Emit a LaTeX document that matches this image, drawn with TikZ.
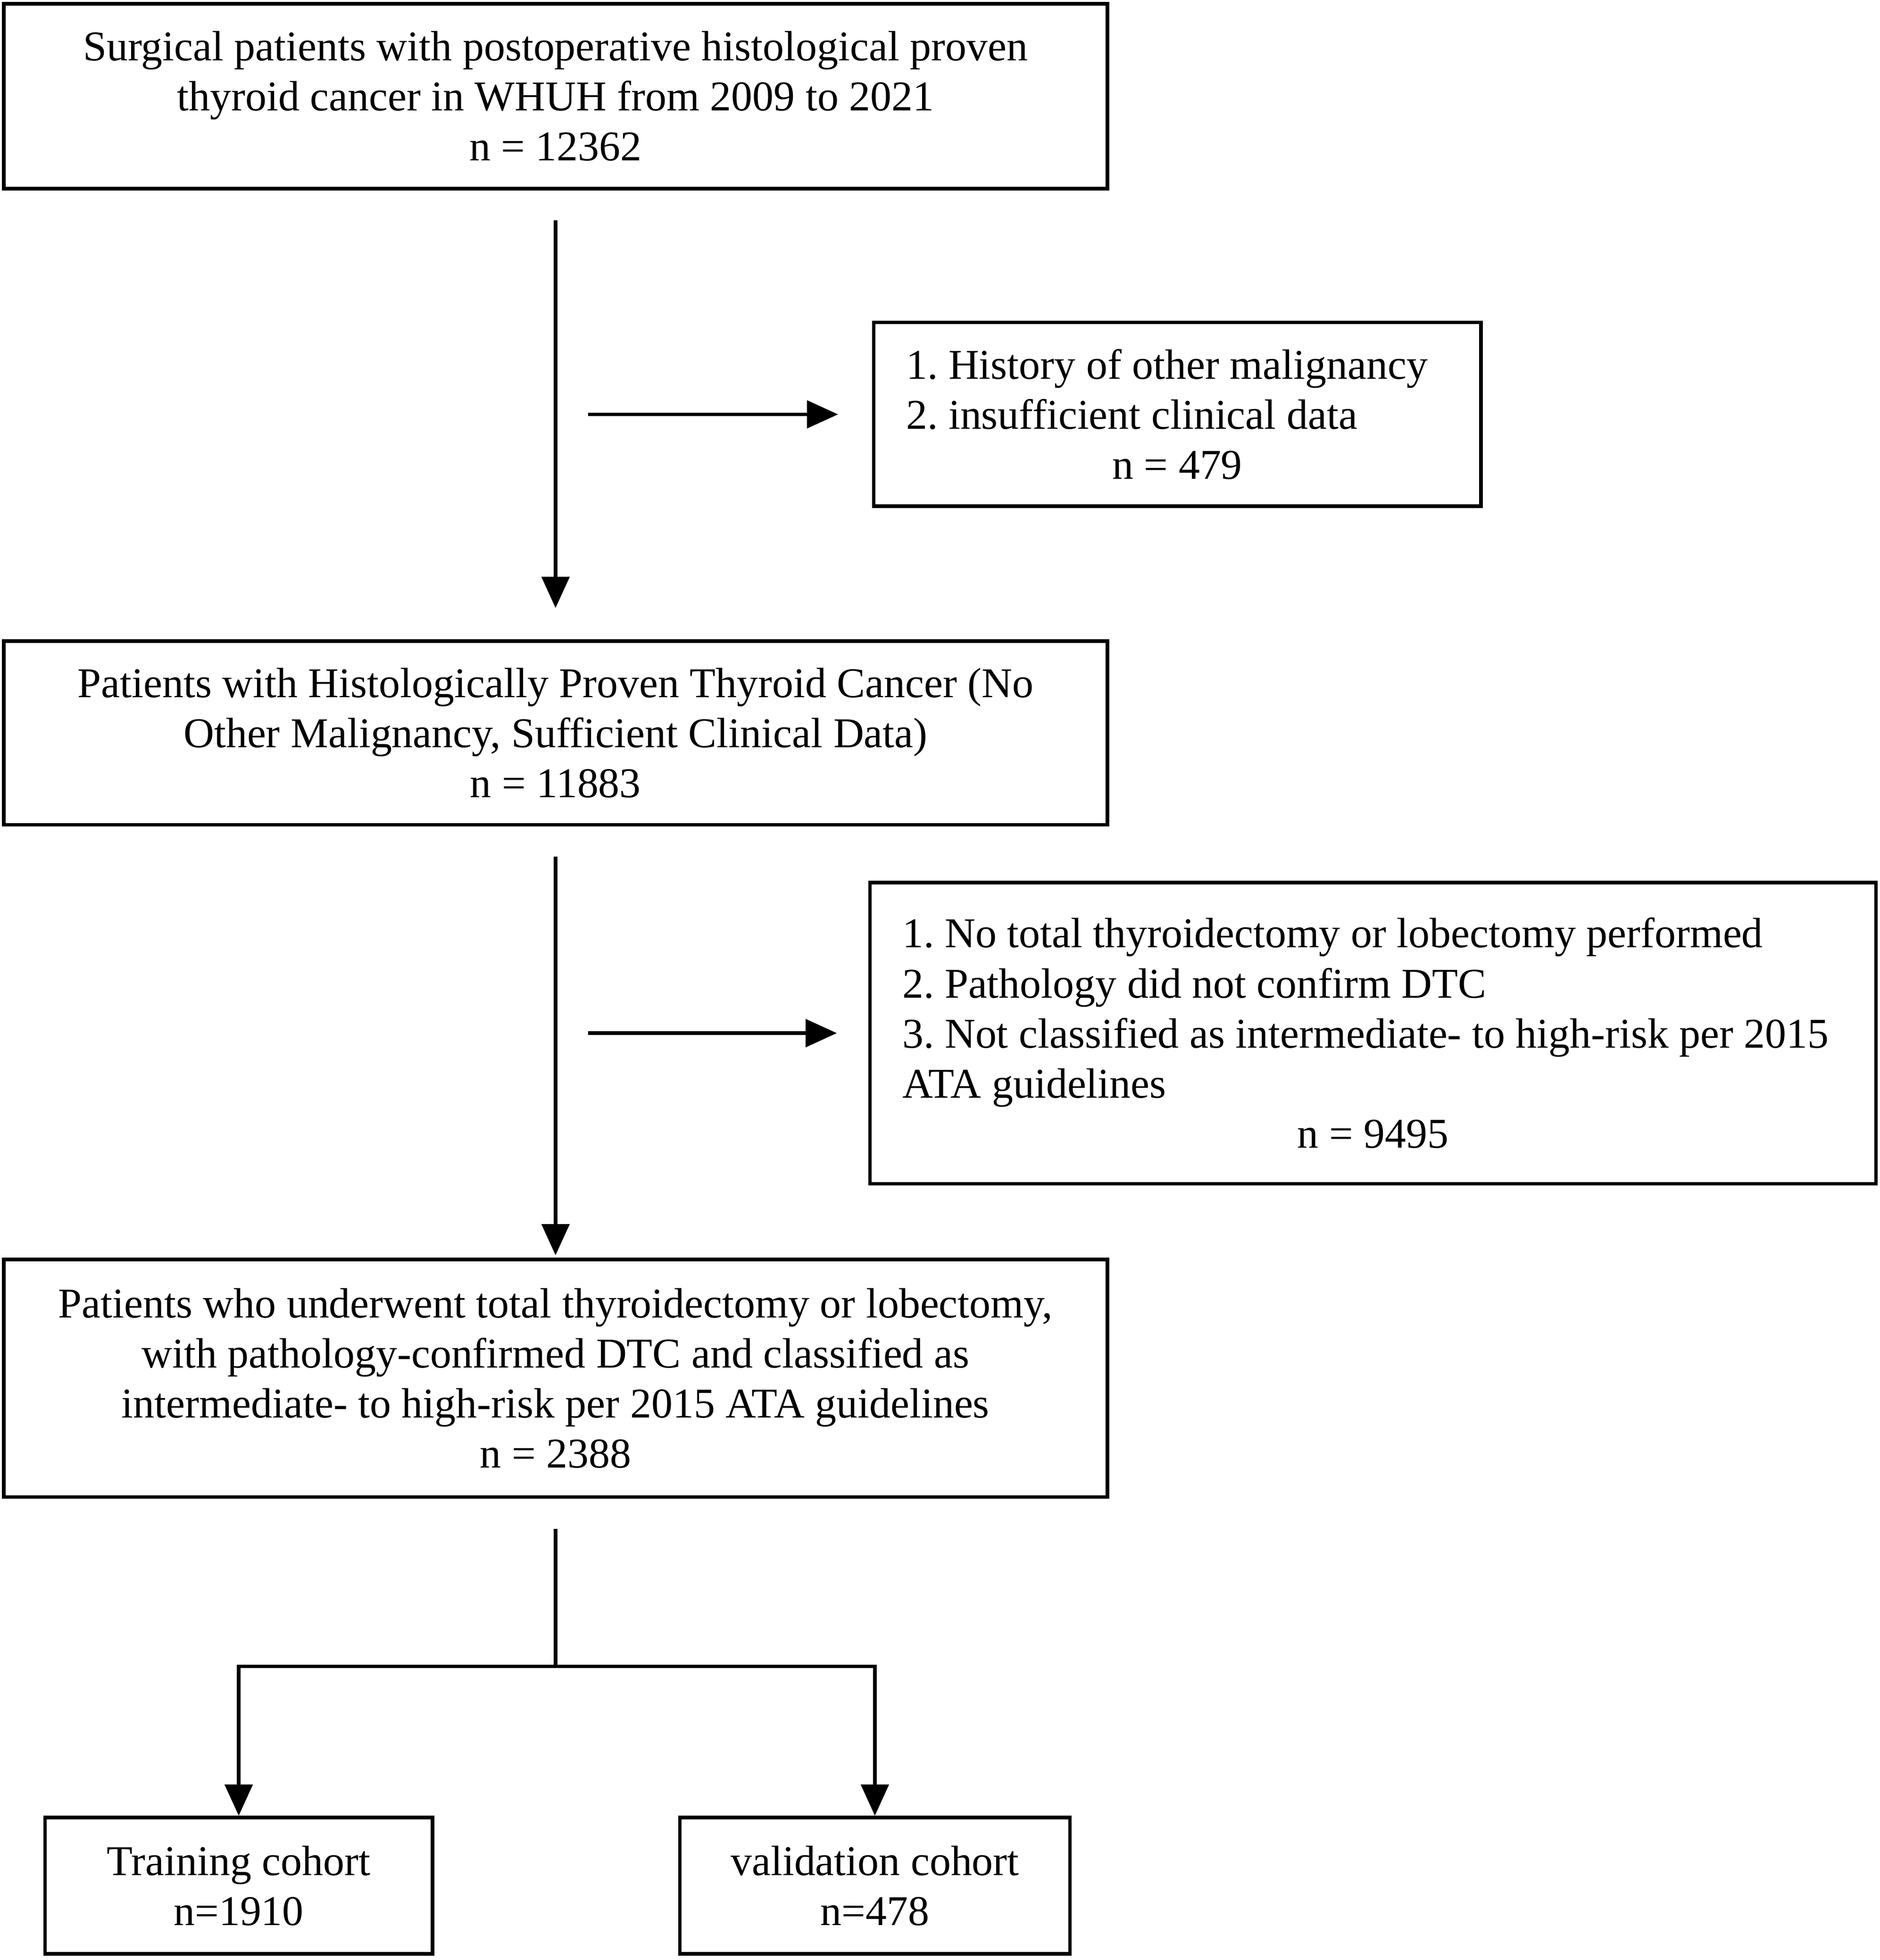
\documentclass[tikz,border=0pt]{standalone}
\usepackage{fontspec}
\setmainfont{Liberation Serif}
\usetikzlibrary{arrows.meta, calc, positioning}
\tikzstyle{cohort} = [rectangle, thick, minimum width=8.83cm, align=center, draw=black, font=\fontsize{9.65}{11.4}\selectfont\frenchspacing]
\tikzstyle{excluded} = [rectangle, thick, inner xsep=2.6mm, align=flush left, draw=black, font=\fontsize{9.65}{11.4}\selectfont\frenchspacing]
\tikzstyle{subset} = [rectangle, thick, minimum height=1.09cm, align=center, draw=black, font=\fontsize{9.65}{11.4}\selectfont\frenchspacing]
\tikzstyle{arrow} = [thick,-{Triangle[length=2.5mm,width=2.2mm]}]
\tikzstyle{line} = [thick]

\begin{document}
\begin{tikzpicture}
		\useasboundingbox (0,0) rectangle (15.04,-15.68);
		\node (Surgical) [cohort, minimum height=1.48cm] at (4.445,-0.77) {Surgical patients with postoperative histological proven\\thyroid cancer in WHUH from 2009 to 2021\\n = 12362};
		\node (Proven) [cohort, minimum height=1.47cm, below = 3.59cm of Surgical] {Patients with Histologically Proven Thyroid Cancer (No\\Other Malignancy, Sufficient Clinical Data)\\n = 11883};
		\node (Included) [cohort, minimum height=1.90cm, below = 3.45cm of Proven] {Patients who underwent total thyroidectomy or lobectomy,\\with pathology-confirmed DTC and classified as\\intermediate- to high-risk per 2015 ATA guidelines\\n = 2388};
		\node (Training) [subset, minimum width=3.10cm] at (1.91,-15.085) {Training cohort\\n=1910};
		\node (Validation) [subset, minimum width=3.12cm] at (7.00,-15.085) {validation cohort\\n=478};

		\node (Excluded01) [excluded, text width=4.34cm, minimum height=1.47cm] at (9.42,-3.315) {1. History of other malignancy\\2. insufficient clinical data\\\makebox[\linewidth]{n = 479}};
		\node (Excluded02) [excluded, text width=7.53cm, minimum height=2.41cm] at (10.985,-8.265) {1. No total thyroidectomy or lobectomy performed\\2. Pathology did not confirm DTC\\3. Not classified as intermediate- to high-risk per 2015\\ATA guidelines\\\makebox[\linewidth]{n = 9495}};

		\coordinate (Tap01) at (Surgical.south |- Excluded01.west);
		\coordinate (Tap02) at (Proven.south |- Excluded02.west);
		\coordinate (Split) at ($(Included.south) + (0,-1.34)$);

		\draw [arrow, shorten <=2.4mm, shorten >=2.5mm] (Surgical) -- (Proven);
		\draw [arrow, shorten <=2.4mm, shorten >=0.2mm] (Proven) -- (Included);
		\draw [arrow, shorten >=2.7mm] ($(Tap01) + (0.26,0)$) -- (Excluded01);
		\draw [arrow, shorten >=2.5mm] ($(Tap02) + (0.26,0)$) -- (Excluded02);
		\draw [line, shorten <=2.4mm] (Included) -- (Split);
		\draw [arrow] (Split) -| (Training);
		\draw [arrow] (Split) -| (Validation);
	\end{tikzpicture}
\end{document}
